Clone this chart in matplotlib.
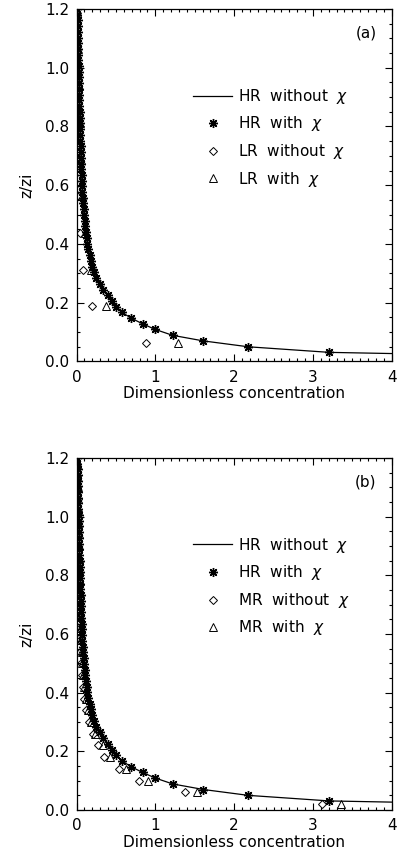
import matplotlib
matplotlib.use("Agg")
import matplotlib.pyplot as plt
from matplotlib.ticker import MultipleLocator, FormatStrFormatter

# ---------------- data ----------------
# HR with chi (asterisks), same in both panels
hr_z = [0.031, 0.050, 0.070, 0.089, 0.109, 0.128, 0.148, 0.167, 0.187, 0.206,
        0.226, 0.245, 0.265, 0.284, 0.304, 0.323, 0.343, 0.362, 0.382, 0.401,
        0.421, 0.440, 0.460, 0.479, 0.499, 0.518, 0.538, 0.557, 0.577, 0.596,
        0.616, 0.635, 0.655, 0.674, 0.694, 0.713, 0.733, 0.752, 0.772, 0.791,
        0.811, 0.830, 0.850, 0.869, 0.889, 0.908, 0.928, 0.947, 0.967, 0.986,
        1.006, 1.025, 1.045, 1.064, 1.084, 1.103, 1.123, 1.142, 1.162, 1.181, 1.200]
hr_chi_c = [3.21, 2.18, 1.61, 1.22, 1.00, 0.84, 0.69, 0.58, 0.50, 0.45,
            0.40, 0.34, 0.30, 0.25, 0.22, 0.20, 0.18, 0.165, 0.150, 0.138,
            0.127, 0.118, 0.110, 0.103, 0.096, 0.090, 0.085, 0.080, 0.076, 0.072,
            0.069, 0.066, 0.063, 0.060, 0.058, 0.056, 0.053, 0.050, 0.048, 0.046,
            0.044, 0.042, 0.040, 0.038, 0.036, 0.035, 0.033, 0.031, 0.030, 0.028,
            0.027, 0.025, 0.024, 0.022, 0.021, 0.019, 0.018, 0.016, 0.014, 0.012, 0.010]

# HR without chi (solid line)
hr_line_z = [0.027, 0.031, 0.050, 0.070, 0.089, 0.109, 0.128, 0.148, 0.167, 0.187,
             0.206, 0.226, 0.245, 0.265, 0.284, 0.304, 0.323, 0.343, 0.382, 0.421,
             0.460, 0.499, 0.538, 0.577, 0.616, 0.655, 0.694, 0.733, 0.772, 0.811,
             0.850, 0.889, 0.928, 0.967, 1.006, 1.045, 1.084, 1.123, 1.162, 1.200]
hr_line_c = [4.00, 3.21, 2.18, 1.61, 1.22, 1.00, 0.84, 0.69, 0.58, 0.50,
             0.45, 0.40, 0.34, 0.30, 0.25, 0.22, 0.20, 0.18, 0.150, 0.127,
             0.110, 0.096, 0.085, 0.076, 0.069, 0.063, 0.058, 0.053, 0.048, 0.044,
             0.040, 0.036, 0.033, 0.030, 0.027, 0.024, 0.021, 0.018, 0.014, 0.010]

# LR (panel a)
lr_z = [0.0625, 0.1875, 0.3125, 0.4375, 0.5625, 0.6875, 0.8125, 0.9375, 1.0625, 1.1875]
lr_nochi_c = [0.88, 0.20, 0.08, 0.045, 0.035, 0.028, 0.022, 0.017, 0.012, 0.008]
lr_chi_c = [1.29, 0.37, 0.19, 0.105, 0.075, 0.055, 0.042, 0.032, 0.022, 0.012]

# MR (panel b)
mr_z = [0.02, 0.06, 0.10, 0.14, 0.18, 0.22, 0.26, 0.30, 0.34, 0.38,
        0.42, 0.46, 0.50, 0.54, 0.58, 0.62, 0.66, 0.70, 0.74, 0.78,
        0.82, 0.86, 0.90, 0.94, 0.98, 1.02, 1.06, 1.10, 1.14, 1.18]
mr_nochi_c = [3.11, 1.38, 0.79, 0.54, 0.355, 0.267, 0.21, 0.16, 0.12, 0.094,
              0.080, 0.066, 0.057, 0.050, 0.045, 0.040, 0.036, 0.033, 0.030, 0.027,
              0.025, 0.023, 0.021, 0.019, 0.017, 0.015, 0.013, 0.011, 0.009, 0.007]
mr_chi_c = [3.36, 1.53, 0.91, 0.63, 0.43, 0.33, 0.24, 0.185, 0.145, 0.115,
            0.098, 0.085, 0.075, 0.067, 0.060, 0.055, 0.050, 0.046, 0.042, 0.039,
            0.036, 0.033, 0.030, 0.027, 0.024, 0.021, 0.018, 0.015, 0.012, 0.009]

panel_tags = ["(a)", "(b)"]
coarse_names = ["LR", "MR"]
x_label = "Dimensionless concentration"
y_label = "z/zi"

# ---------------- figure ----------------
plt.rcParams['font.family'] = ['DejaVu Sans']
plt.rcParams['mathtext.fontset'] = 'dejavusans'
FS = 11

fig = plt.figure(figsize=(3.97, 8.58), dpi=100)
ax_a = fig.add_axes([0.1927, 0.5787, 0.794, 0.4108])
ax_b = fig.add_axes([0.1927, 0.0559, 0.794, 0.4103])

star = (8, 2, 0)
panels = [
    (ax_a, lr_z, lr_nochi_c, lr_chi_c),
    (ax_b, mr_z, mr_nochi_c, mr_chi_c),
]

for i, (ax, cz, c_nochi, c_chi) in enumerate(panels):
    name = coarse_names[i]
    l1, = ax.plot(hr_line_c, hr_line_z, color='black', lw=0.9,
                  label=r"HR  without  $\chi$")
    l2, = ax.plot(hr_chi_c, hr_z, linestyle='none', marker=star, ms=6.5,
                  mec='black', mew=1.0, color='black', label=r"HR  with  $\chi$")
    l3, = ax.plot(c_nochi, cz, linestyle='none', marker='D', ms=4.2,
                  mfc='none', mec='black', mew=0.7, label=name + r"  without  $\chi$")
    l4, = ax.plot(c_chi, cz, linestyle='none', marker='^', ms=6.0,
                  mfc='none', mec='black', mew=0.7, label=name + r"  with  $\chi$")

    ax.set_xlim(0, 4)
    ax.set_ylim(0, 1.2)
    ax.xaxis.set_major_locator(MultipleLocator(1))
    ax.xaxis.set_minor_locator(MultipleLocator(0.1))
    ax.yaxis.set_major_locator(MultipleLocator(0.2))
    ax.yaxis.set_minor_locator(MultipleLocator(0.05))
    ax.yaxis.set_major_formatter(FormatStrFormatter('%.1f'))
    ax.tick_params(which='both', direction='in', top=True, right=True,
                   labelsize=FS, width=0.8)
    ax.tick_params(which='major', length=5)
    ax.tick_params(which='minor', length=2.5)
    ax.tick_params(axis='y', which='major', pad=5)
    ax.tick_params(axis='x', which='major', pad=6)
    for sp in ax.spines.values():
        sp.set_linewidth(0.9)
    ax.set_xlabel(x_label, fontsize=FS, labelpad=1)
    ax.set_ylabel(y_label, fontsize=FS, labelpad=8)
    ax.text(0.918, 0.932, panel_tags[i], transform=ax.transAxes,
            fontsize=FS, ha='center', va='center')
    ax.legend(handles=[l1, l2, l3, l4], loc='upper left',
              bbox_to_anchor=(0.37, 0.779), frameon=False, fontsize=FS,
              borderpad=0, handlelength=2.55, handletextpad=0.36,
              labelspacing=0.56, borderaxespad=0)

fig.savefig("out.png", dpi=100)
